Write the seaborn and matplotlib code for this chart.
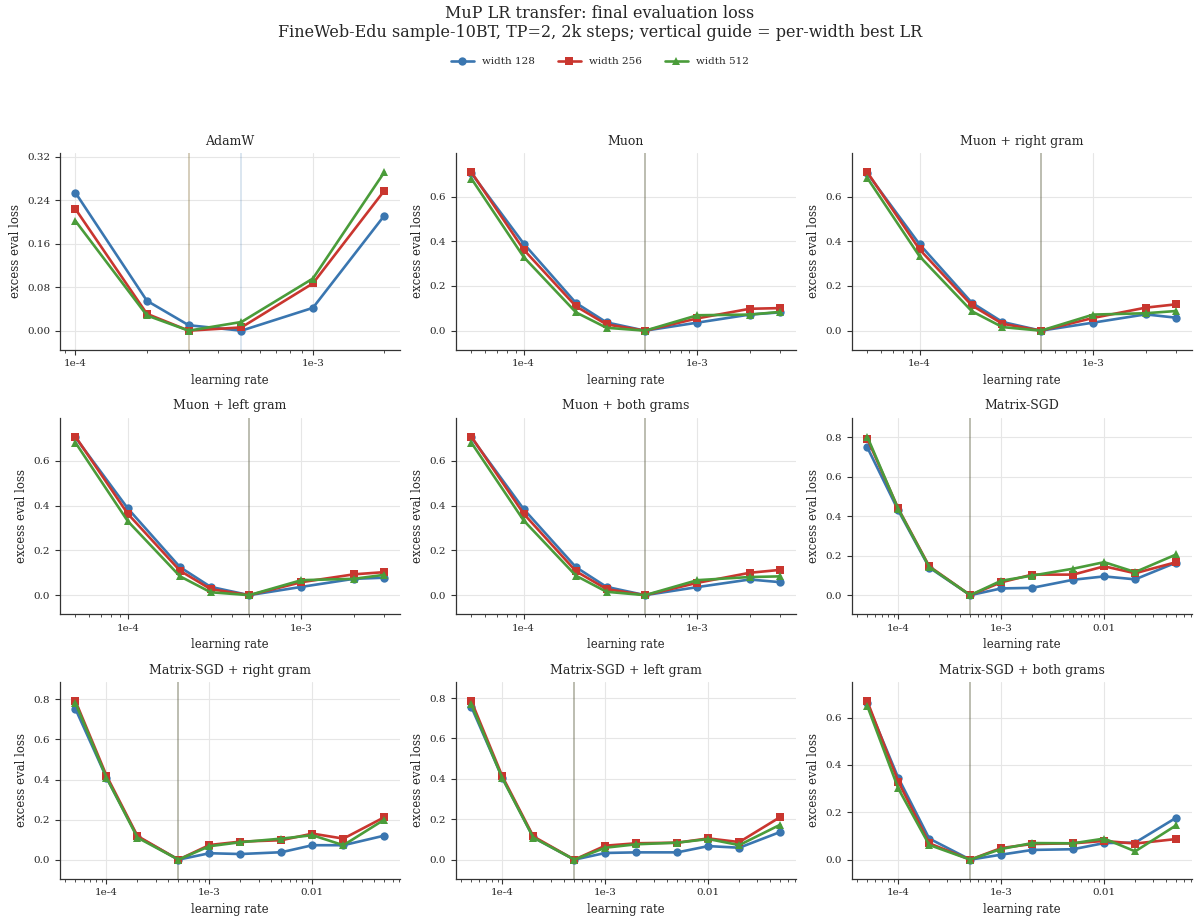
import numpy as np
import pandas as pd
import matplotlib
matplotlib.use('Agg')
import matplotlib.pyplot as plt
from matplotlib.ticker import FixedLocator, FixedFormatter, LogLocator, MultipleLocator, NullFormatter
import seaborn as sns

# learning-rate grids
LR_ADAMW = [1e-4, 2e-4, 3e-4, 5e-4, 1e-3, 2e-3]
LR_MUON = [5e-5, 1e-4, 2e-4, 3e-4, 5e-4, 1e-3, 2e-3, 3e-3]
LR_SGD = [5e-5, 1e-4, 2e-4, 5e-4, 1e-3, 2e-3, 5e-3, 1e-2, 2e-2, 5e-2]

WIDTHS = [128, 256, 512]
WIDTH_LABELS = ['width 128', 'width 256', 'width 512']
COLORS = ['#3a76b0', '#c9362f', '#4a9c3a']
MARKERS = ['o', 's', '^']

PANEL_TITLES = ['AdamW', 'Muon', 'Muon + right gram', 'Muon + left gram', 'Muon + both grams',
                'Matrix-SGD', 'Matrix-SGD + right gram', 'Matrix-SGD + left gram',
                'Matrix-SGD + both grams']

# excess eval loss, per optimizer and width
ADAMW_128 = [0.254, 0.055, 0.010, 0.000, 0.042, 0.212]
ADAMW_256 = [0.224, 0.031, 0.000, 0.006, 0.087, 0.258]
ADAMW_512 = [0.202, 0.028, 0.000, 0.016, 0.096, 0.292]

MUON_128 = [0.705, 0.390, 0.124, 0.037, 0.0, 0.036, 0.072, 0.082]
MUON_256 = [0.710, 0.363, 0.109, 0.028, 0.0, 0.055, 0.098, 0.101]
MUON_512 = [0.681, 0.330, 0.082, 0.013, 0.0, 0.069, 0.072, 0.084]

MUON_R_128 = [0.705, 0.387, 0.125, 0.039, 0.0, 0.036, 0.073, 0.058]
MUON_R_256 = [0.710, 0.364, 0.113, 0.031, 0.0, 0.057, 0.103, 0.118]
MUON_R_512 = [0.684, 0.333, 0.087, 0.016, 0.0, 0.072, 0.078, 0.088]

MUON_L_128 = [0.705, 0.388, 0.125, 0.037, 0.0, 0.037, 0.073, 0.078]
MUON_L_256 = [0.709, 0.364, 0.109, 0.027, 0.0, 0.058, 0.093, 0.103]
MUON_L_512 = [0.682, 0.331, 0.084, 0.013, 0.0, 0.067, 0.073, 0.091]

MUON_B_128 = [0.705, 0.385, 0.125, 0.037, 0.0, 0.036, 0.070, 0.058]
MUON_B_256 = [0.709, 0.364, 0.107, 0.027, 0.0, 0.055, 0.100, 0.113]
MUON_B_512 = [0.682, 0.334, 0.087, 0.015, 0.0, 0.067, 0.081, 0.084]

SGD_128 = [0.749, 0.429, 0.140, 0.0, 0.034, 0.037, 0.078, 0.095, 0.080, 0.165]
SGD_256 = [0.793, 0.439, 0.146, 0.0, 0.065, 0.104, 0.104, 0.146, 0.111, 0.167]
SGD_512 = [0.803, 0.436, 0.143, 0.0, 0.073, 0.099, 0.134, 0.167, 0.117, 0.206]

SGD_R_128 = [0.753, 0.410, 0.115, 0.0, 0.032, 0.028, 0.037, 0.072, 0.072, 0.120]
SGD_R_256 = [0.792, 0.420, 0.118, 0.0, 0.073, 0.090, 0.097, 0.130, 0.105, 0.212]
SGD_R_512 = [0.782, 0.410, 0.110, 0.0, 0.067, 0.087, 0.105, 0.122, 0.072, 0.200]

SGD_L_128 = [0.756, 0.405, 0.110, 0.0, 0.033, 0.036, 0.036, 0.067, 0.059, 0.137]
SGD_L_256 = [0.785, 0.412, 0.115, 0.0, 0.069, 0.081, 0.084, 0.105, 0.087, 0.211]
SGD_L_512 = [0.769, 0.403, 0.109, 0.0, 0.059, 0.076, 0.084, 0.102, 0.072, 0.173]

SGD_B_128 = [0.660, 0.346, 0.089, 0.0, 0.021, 0.041, 0.044, 0.070, 0.072, 0.177]
SGD_B_256 = [0.670, 0.330, 0.069, 0.0, 0.049, 0.066, 0.069, 0.079, 0.068, 0.087]
SGD_B_512 = [0.650, 0.301, 0.062, 0.0, 0.045, 0.070, 0.069, 0.089, 0.035, 0.145]

PANELS = [
    (LR_ADAMW, [ADAMW_128, ADAMW_256, ADAMW_512]),
    (LR_MUON, [MUON_128, MUON_256, MUON_512]),
    (LR_MUON, [MUON_R_128, MUON_R_256, MUON_R_512]),
    (LR_MUON, [MUON_L_128, MUON_L_256, MUON_L_512]),
    (LR_MUON, [MUON_B_128, MUON_B_256, MUON_B_512]),
    (LR_SGD, [SGD_128, SGD_256, SGD_512]),
    (LR_SGD, [SGD_R_128, SGD_R_256, SGD_R_512]),
    (LR_SGD, [SGD_L_128, SGD_L_256, SGD_L_512]),
    (LR_SGD, [SGD_B_128, SGD_B_256, SGD_B_512]),
]

X_TICKS = [1e-4, 1e-3, 1e-2]
X_TICK_LABELS = ['1e-4', '1e-3', '0.01']

sns.set_theme(style='ticks')
plt.rcParams['font.family'] = ['DejaVu Serif']
plt.rcParams['xtick.labelsize'] = 7.5
plt.rcParams['ytick.labelsize'] = 7.5
plt.rcParams['axes.labelsize'] = 8.5
plt.rcParams['axes.titlesize'] = 9

fig, axes = plt.subplots(3, 3, figsize=(12, 9.22), dpi=100)
fig.subplots_adjust(left=0.05, right=0.993, top=0.834, bottom=0.047, wspace=0.165, hspace=0.345)

palette = dict(zip(WIDTH_LABELS, COLORS))
markers = dict(zip(WIDTH_LABELS, MARKERS))

for ax, title, (lrs, series) in zip(axes.flat, PANEL_TITLES, PANELS):
    rows = []
    for lab, vals in zip(WIDTH_LABELS, series):
        for lr, v in zip(lrs, vals):
            rows.append({'lr': lr, 'loss': v, 'width': lab})
    df = pd.DataFrame(rows)

    # per-width best LR guide
    for lab, vals in zip(WIDTH_LABELS, series):
        best = lrs[int(np.argmin(vals))]
        ax.axvline(best, color=palette[lab], alpha=0.2, lw=1.3, zorder=1)

    sns.lineplot(data=df, x='lr', y='loss', hue='width', style='width',
                 palette=palette, markers=markers, dashes=False,
                 linewidth=1.9, markersize=6, markeredgewidth=0,
                 ax=ax, legend=False, zorder=3)

    ax.set_xscale('log')
    ax.xaxis.set_major_locator(FixedLocator(X_TICKS))
    ax.xaxis.set_major_formatter(FixedFormatter(X_TICK_LABELS))
    ax.xaxis.set_minor_locator(LogLocator(base=10, subs=np.arange(2, 10)))
    ax.xaxis.set_minor_formatter(NullFormatter())

    ymax = max(max(v) for v in series)
    ax.set_ylim(-0.12 * ymax, 1.12 * ymax)
    ax.yaxis.set_major_locator(MultipleLocator(0.08 if ymax < 0.4 else 0.2))
    if ymax < 0.4:
        ax.yaxis.set_major_formatter(plt.FormatStrFormatter('%.2f'))
    else:
        ax.yaxis.set_major_formatter(plt.FormatStrFormatter('%.1f'))

    ax.grid(True, which='major', color='#e6e6e6', lw=0.8)
    ax.set_axisbelow(True)
    ax.tick_params(axis='both', which='major', length=3.5, width=0.8, color='#333333')
    ax.tick_params(axis='x', which='minor', length=2, width=0.6, color='#333333')
    for s in ['left', 'bottom']:
        ax.spines[s].set_color('#333333')
        ax.spines[s].set_linewidth(0.9)
    sns.despine(ax=ax)

    ax.set_title(title, pad=6)
    ax.set_xlabel('learning rate')
    ax.set_ylabel('excess eval loss')

handles = [plt.Line2D([], [], color=c, marker=m, lw=1.9, markersize=6, markeredgewidth=0)
           for c, m in zip(COLORS, MARKERS)]
fig.legend(handles, WIDTH_LABELS, loc='center', bbox_to_anchor=(0.5, 0.933), ncol=3,
           frameon=False, fontsize=7.5, handlelength=2.2, columnspacing=2.2)

fig.suptitle('MuP LR transfer: final evaluation loss\n'
             'FineWeb-Edu sample-10BT, TP=2, 2k steps; vertical guide = per-width best LR',
             fontsize=11.5, y=0.995, linespacing=1.15)

fig.savefig('out.png', dpi=100)
